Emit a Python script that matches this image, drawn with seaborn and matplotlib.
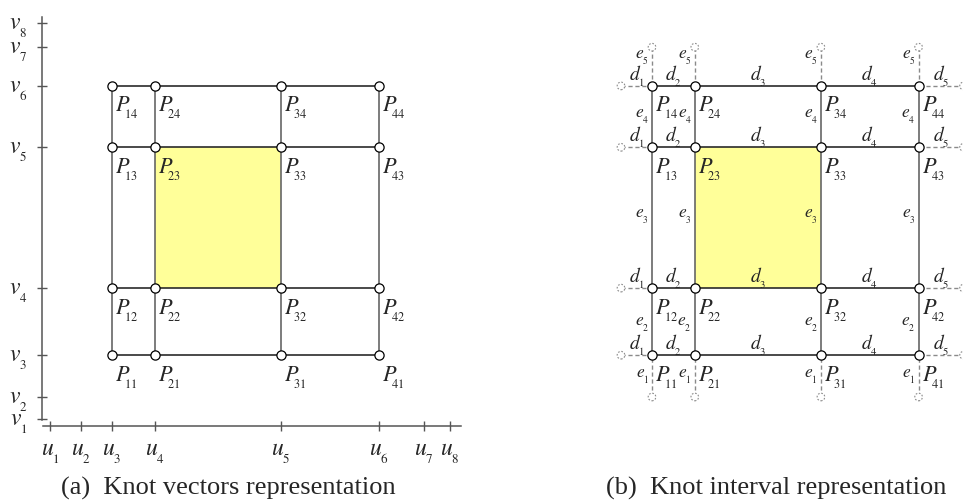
import numpy as np
import pandas as pd
import matplotlib
matplotlib.use("Agg")
import matplotlib.pyplot as plt
import seaborn as sns

# smaller, lower subscripts (Times-like typesetting of the reference)
try:
    import matplotlib._mathtext as _mt
    _mt.SHRINK_FACTOR = 0.55
    _mt.STIXFontConstants.sub1 = 0.75
except Exception:
    pass

# ---------------- data ----------------
u_knots = [0.0, 1.0, 2.0, 3.38, 7.45, 10.6, 12.05, 12.9]      # u1..u8
v_knots = [0.0, 1.0, 2.9, 5.95, 12.35, 15.14, 16.9, 18.0]     # v1..v8
u_tick_labels = [r"$u_{%d}$" % i for i in range(1, 9)]
v_tick_labels = [r"$v_{%d}$" % i for i in range(1, 9)]
ctrl_u = u_knots[2:6]          # control point columns (u3..u6)
ctrl_v = v_knots[2:6]          # control point rows (v3..v6)
ext_u = [u_knots[1], u_knots[6]]   # phantom ends in u (u2, u7)
ext_v = [v_knots[1], v_knots[6]]   # phantom ends in v (v2, v7)
highlight_u = [u_knots[3], u_knots[4]]
highlight_v = [v_knots[3], v_knots[4]]
d_labels = [r"$d_{%d}$" % i for i in range(1, 6)]
e_labels = [r"$e_{%d}$" % i for i in range(1, 6)]
captions = ["(a)  Knot vectors representation", "(b)  Knot interval representation"]

# ---------------- style ----------------
sns.set_theme(style="white")
plt.rcParams["font.family"] = ["Liberation Serif", "DejaVu Serif"]
plt.rcParams["mathtext.fontset"] = "stix"

W, H = 963, 504
PXU, PXV = 31.0, 22.0      # pixels per knot unit
X0, Y0 = 50.0, 419.0       # pixel position of (u1, v1) inside a panel
E_NUDGE = [0, -2, 2, 1, 10]  # small vertical label nudges (pixels) for e-labels

fig = plt.figure(figsize=(W / 100, H / 100), dpi=100)

def make_ax(left_px, width_px):
    ax = fig.add_axes([left_px / W, 0, width_px / W, 1])
    ax.set_xlim(-X0 / PXU, (width_px - X0) / PXU)
    ax.set_ylim((Y0 - H) / PXV, Y0 / PXV)
    ax.set_facecolor("none")
    return ax

ax_a = make_ax(0, 500)
ax_b = make_ax(540, 423)

H_COL = "#2a2a2a"
V_COL = "#666666"
DASH_COL = "#8a8a8a"

def grid_segments():
    rows = []
    sid = 0
    for v in ctrl_v:
        rows += [(sid, ctrl_u[0], v, "h"), (sid, ctrl_u[-1], v, "h")]
        sid += 1
    for u in ctrl_u:
        rows += [(sid, u, ctrl_v[0], "v"), (sid, u, ctrl_v[-1], "v")]
        sid += 1
    return pd.DataFrame(rows, columns=["seg", "x", "y", "dir"])

def ext_segments():
    rows = []
    sid = 0
    for v in ctrl_v:
        rows += [(sid, ext_u[0], v), (sid, ctrl_u[0], v)]; sid += 1
        rows += [(sid, ctrl_u[-1], v), (sid, ext_u[1], v)]; sid += 1
    for u in ctrl_u:
        rows += [(sid, u, ext_v[0]), (sid, u, ctrl_v[0])]; sid += 1
        rows += [(sid, u, ctrl_v[-1]), (sid, u, ext_v[1])]; sid += 1
    return pd.DataFrame(rows, columns=["seg", "x", "y"])

nodes = pd.DataFrame([(u, v) for u in ctrl_u for v in ctrl_v], columns=["x", "y"])
ext_nodes = pd.DataFrame(
    [(e, v) for e in ext_u for v in ctrl_v] + [(u, e) for u in ctrl_u for e in ext_v],
    columns=["x", "y"])
seg = grid_segments()

for k, ax in enumerate([ax_a, ax_b]):
    ax.fill_between(highlight_u, highlight_v[0], highlight_v[1], color="#ffff99", lw=0, zorder=1)
    if k == 1:
        sns.lineplot(data=ext_segments(), x="x", y="y", units="seg", estimator=None, sort=False,
                     color=DASH_COL, lw=1.0, linestyle=(0, (3, 2)), ax=ax, legend=False, zorder=2)
        sns.scatterplot(data=ext_nodes, x="x", y="y", s=30, color="white", edgecolor=DASH_COL,
                        linewidth=0.8, linestyle=(0, (1.5, 1.5)), ax=ax, legend=False, zorder=3)
    sns.lineplot(data=seg[seg["dir"] == "v"], x="x", y="y", units="seg", estimator=None, sort=False,
                 color=V_COL, lw=1.2, ax=ax, legend=False, zorder=3)
    sns.lineplot(data=seg[seg["dir"] == "h"], x="x", y="y", units="seg", estimator=None, sort=False,
                 color=H_COL, lw=1.2, ax=ax, legend=False, zorder=3)
    sns.scatterplot(data=nodes, x="x", y="y", s=44, color="white", edgecolor="black",
                    linewidth=0.9, ax=ax, legend=False, zorder=5)
    for i, u in enumerate(ctrl_u):
        for j, v in enumerate(ctrl_v):
            ax.annotate(r"$P_{\hspace{-0.5}%d%d}$" % (i + 1, j + 1), (u, v), xytext=(3, -9),
                        textcoords="offset pixels", ha="left", va="top", fontsize=16, zorder=6)
    ax.set_xlabel("")
    ax.set_ylabel("")

# ---- panel (b): interval labels ----
u_seq = [ext_u[0]] + ctrl_u + [ext_u[1]]
v_seq = [ext_v[0]] + ctrl_v + [ext_v[1]]
for v in ctrl_v:
    for n in range(5):
        ax_b.annotate(d_labels[n], ((u_seq[n] + u_seq[n + 1]) / 2, v), xytext=(0, 10),
                      textcoords="offset pixels", ha="center", va="center", fontsize=14)
for u in ctrl_u:
    for n in range(5):
        ax_b.annotate(e_labels[n], (u, (v_seq[n] + v_seq[n + 1]) / 2), xytext=(-3, E_NUDGE[n]),
                      textcoords="offset pixels", ha="right", va="center", fontsize=12.5)
for s in ax_b.spines.values():
    s.set_visible(False)
ax_b.set_xticks([])
ax_b.set_yticks([])

# ---- panel (a): knot axes ----
AX_COL = "#555555"
for name in ["top", "right"]:
    ax_a.spines[name].set_visible(False)
ax_a.spines["left"].set_position(("data", u_knots[0] - 0.26))
ax_a.spines["left"].set_bounds(v_knots[0] - 0.05, v_knots[-1] + 0.27)
ax_a.spines["bottom"].set_position(("data", v_knots[0] - 0.32))
ax_a.spines["bottom"].set_bounds(u_knots[0] - 0.23, u_knots[-1] + 0.36)
for name in ["left", "bottom"]:
    ax_a.spines[name].set_color(AX_COL)
    ax_a.spines[name].set_linewidth(1.1)
ax_a.set_xticks(u_knots, u_tick_labels)
ax_a.set_yticks(v_knots, v_tick_labels)
ax_a.tick_params(axis="both", direction="inout", length=7, width=1.0, color=AX_COL,
                 labelsize=17, bottom=True, left=True)
ax_a.tick_params(axis="y", pad=7)
ax_a.tick_params(axis="x", pad=8)

# ---- captions ----
fig.text(228 / W, 1 - 488 / H, captions[0], ha="center", va="center", fontsize=19)
fig.text(776 / W, 1 - 488 / H, captions[1], ha="center", va="center", fontsize=19)

fig.savefig("out.png", dpi=100)
